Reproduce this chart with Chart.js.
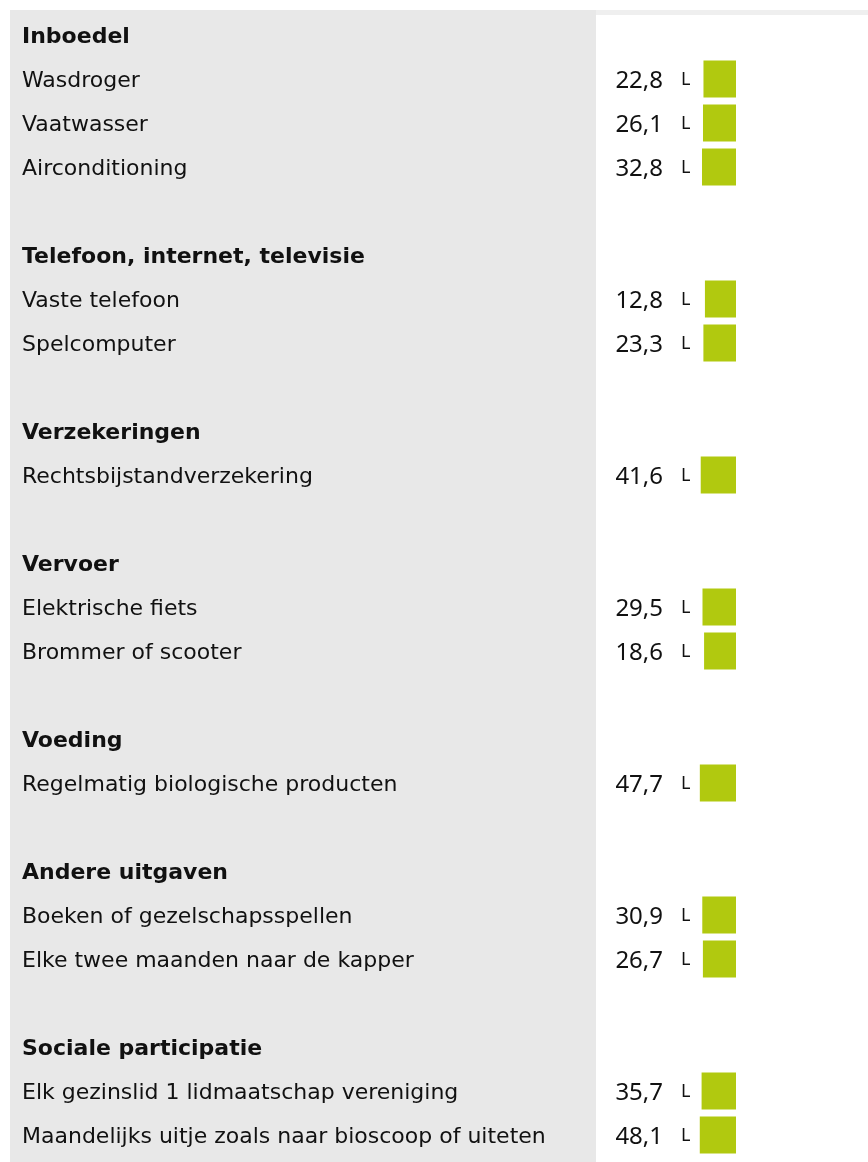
<!DOCTYPE html>
<html>
<head>
<meta charset="utf-8">
<script src="https://cdn.jsdelivr.net/npm/chart.js@4/dist/chart.umd.min.js"></script>
<style>
    html, body { margin: 0; padding: 0; background: #ffffff; }
    #wrap { position: relative; width: 868px; height: 1162px; }
</style>
</head>
<body>
<div id="wrap"><canvas id="uitgavenChart"></canvas></div>
<script>
// Rijen van de tabel (kopjes, posten en lege tussenregels)
const categories = [
    'Inboedel',
    'Wasdroger',
    'Vaatwasser',
    'Airconditioning',
    '',
    'Telefoon, internet, televisie',
    'Vaste telefoon',
    'Spelcomputer',
    '',
    'Verzekeringen',
    'Rechtsbijstandverzekering',
    '',
    'Vervoer',
    'Elektrische fiets',
    'Brommer of scooter',
    '',
    'Voeding',
    'Regelmatig biologische producten',
    '',
    'Andere uitgaven',
    'Boeken of gezelschapsspellen',
    'Elke twee maanden naar de kapper',
    '',
    'Sociale participatie',
    'Elk gezinslid 1 lidmaatschap vereniging',
    'Maandelijks uitje zoals naar bioscoop of uiteten'
];

const headers = [
    'Inboedel',
    'Telefoon, internet, televisie',
    'Verzekeringen',
    'Vervoer',
    'Voeding',
    'Andere uitgaven',
    'Sociale participatie'
];

// Percentages per post (null = kopje of lege regel)
const values = [
    null, 22.8, 26.1, 32.8,
    null,
    null, 12.8, 23.3,
    null,
    null, 41.6,
    null,
    null, 29.5, 18.6,
    null,
    null, 47.7,
    null,
    null, 30.9, 26.7,
    null,
    null, 35.7, 48.1
];

// Markering achter elk getal
const markers = [
    null, 'L', 'L', 'L',
    null,
    null, 'L', 'L',
    null,
    null, 'L',
    null,
    null, 'L', 'L',
    null,
    null, 'L',
    null,
    null, 'L', 'L',
    null,
    null, 'L', 'L'
];

const barColor = '#b1c90f';
const panelColor = '#e8e8e8';
const textColor = '#111111';
const labelFont = '"DejaVu Sans", sans-serif';
const numberFont = '"Noto Sans", "Open Sans", sans-serif';

/**
 * Grijs vlak achter de labels
 */
const panelPlugin = {
    id: 'panel',
    beforeDraw(chart) {
        const ctx = chart.ctx;
        ctx.save();
        ctx.fillStyle = '#efefef';
        ctx.fillRect(10, 10, chart.width - 10, 5);
        ctx.fillStyle = panelColor;
        ctx.fillRect(10, 10, 586, chart.height - 10);
        ctx.restore();
    }
};

/**
 * Getal en markering naast elke balk
 */
const valueLabelPlugin = {
    id: 'valueLabels',
    afterDatasetsDraw(chart) {
        const ctx = chart.ctx;
        const meta = chart.getDatasetMeta(0);
        ctx.save();
        ctx.fillStyle = textColor;
        ctx.textBaseline = 'middle';
        meta.data.forEach((bar, i) => {
            if (values[i] === null) return;
            ctx.font = '24px ' + numberFont;
            ctx.textAlign = 'right';
            ctx.fillText(values[i].toFixed(1).replace('.', ','), 663, bar.y + 2);
            if (markers[i]) {
                ctx.font = '18px ' + numberFont;
                ctx.textAlign = 'left';
                ctx.fillText(markers[i], 681, bar.y + 1);
            }
        });
        ctx.restore();
    }
};

const chart = new Chart(document.getElementById('uitgavenChart'), {
    type: 'bar',
    data: {
        labels: categories,
        datasets: [
            {
                data: values,
                base: -200,
                backgroundColor: barColor,
                borderWidth: 0,
                barPercentage: 0.84,
                categoryPercentage: 1
            }
        ]
    },
    options: {
        indexAxis: 'y',
        responsive: true,
        maintainAspectRatio: false,
        animation: false,
        layout: {
            padding: { left: 22, right: 132, top: 13, bottom: 5 }
        },
        plugins: {
            legend: { display: false },
            tooltip: { enabled: false }
        },
        scales: {
            x: {
                display: false,
                reverse: true,
                min: -200,
                max: 800
            },
            y: {
                grid: { display: false },
                border: { display: false },
                ticks: {
                    autoSkip: false,
                    crossAlign: 'far',
                    padding: 0,
                    labelOffset: 2,
                    color: textColor,
                    font: (c) => ({
                        family: labelFont,
                        size: 22,
                        weight: headers.includes(categories[c.index]) ? 'bold' : 'normal'
                    })
                },
                afterFit: (scale) => {
                    scale.width = 568;
                    scale.paddingTop = 0;
                    scale.paddingBottom = 0;
                }
            }
        }
    },
    plugins: [panelPlugin, valueLabelPlugin]
});
</script>
</body>
</html>
